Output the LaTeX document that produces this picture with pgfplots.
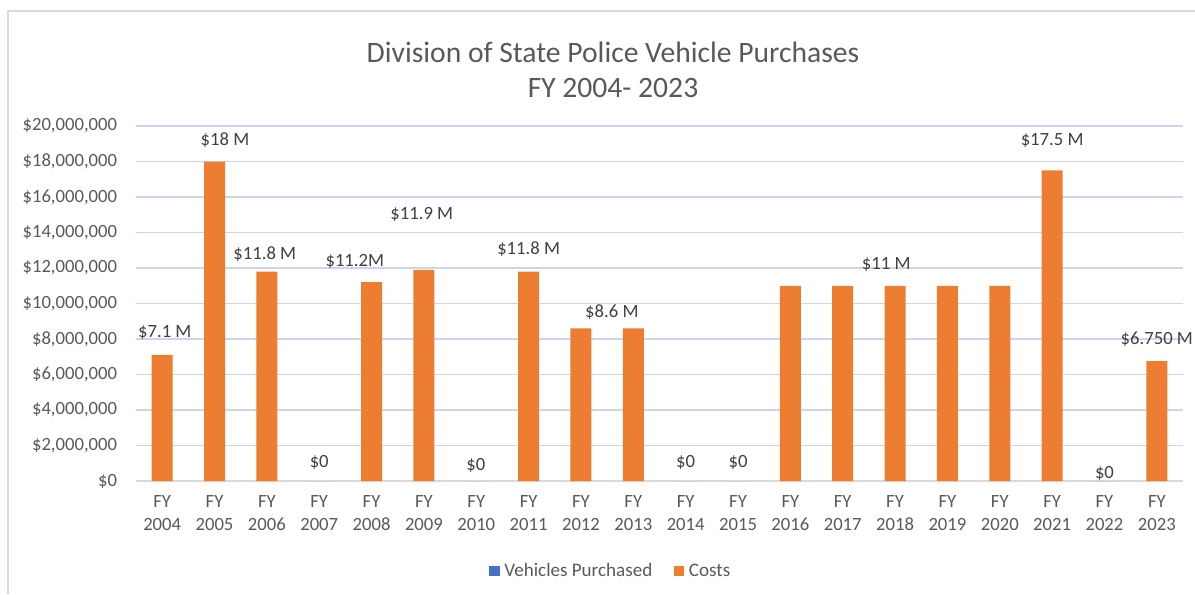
\documentclass[border=0pt]{standalone}
\usepackage{fontspec}
\setmainfont{Carlito}
\usepackage{pgfplots}
\pgfplotsset{compat=1.18}
\definecolor{txt}{HTML}{595959}
\definecolor{lbl}{HTML}{404040}
\definecolor{barorange}{HTML}{ED7D31}
\definecolor{barblue}{HTML}{4472C4}
\definecolor{gridc}{HTML}{CAD5EE}
\definecolor{axc}{HTML}{D9D9D9}
\begin{document}
\begin{tikzpicture}[x=1pt,y=1pt]
\useasboundingbox (0,0) rectangle (896.25,445.5);
\draw[axc, line width=1.1pt] (6,0) -- (6,437.25) -- (896.25,437.25);
\begin{axis}[
  at={(102pt,84.75pt)}, anchor=south west,
  scale only axis, width=785.25pt, height=266.25pt,
  ybar, bar width=15.75pt,
  xmin=-0.5, xmax=19.5, ymin=0, ymax=20000000,
  scaled y ticks=false,
  xtick={0,1,2,3,4,5,6,7,8,9,10,11,12,13,14,15,16,17,18,19},
  xticklabels={{FY\\2004},{FY\\2005},{FY\\2006},{FY\\2007},{FY\\2008},{FY\\2009},{FY\\2010},{FY\\2011},{FY\\2012},{FY\\2013},{FY\\2014},{FY\\2015},{FY\\2016},{FY\\2017},{FY\\2018},{FY\\2019},{FY\\2020},{FY\\2021},{FY\\2022},{FY\\2023}},
  ytick={0,2000000,4000000,6000000,8000000,10000000,12000000,14000000,16000000,18000000,20000000},
  yticklabels={{\$0},{\$2,000,000},{\$4,000,000},{\$6,000,000},{\$8,000,000},{\$10,000,000},{\$12,000,000},{\$14,000,000},{\$16,000,000},{\$18,000,000},{\$20,000,000}},
  major tick length=0pt,
  axis x line*=bottom, axis y line*=left,
  x axis line style={axc, line width=1.1pt, -},
  y axis line style={draw=none},
  ymajorgrids, grid style={gridc, line width=0.9pt},
  tick label style={font=\fontsize{14}{17.25}\selectfont, text=txt},
  yticklabel style={inner sep=0pt, xshift=-14pt},
  xticklabel style={align=center, inner sep=0pt, yshift=-11pt},
  legend style={at={(0.4537,-0.2535)}, anchor=center, draw=none, fill=none,
    legend columns=2, font=\fontsize{14.3}{17}\selectfont, text=txt,
    /tikz/every even column/.append style={column sep=14pt}},
  clip=false,
]
\addlegendimage{fill=barblue, draw=none, legend image code/.code={\fill[barblue] (0pt,-4pt) rectangle (8pt,4pt);}}
\addlegendentry{\hspace{1.5pt}Vehicles Purchased}
\addplot[fill=barorange, draw=none, legend image code/.code={\fill[barorange] (0pt,-4pt) rectangle (8pt,4pt);}] coordinates {
(0,7100000)(1,18000000)(2,11800000)(3,0)(4,11200000)(5,11900000)(6,0)(7,11800000)(8,8600000)(9,8600000)(10,0)(11,0)(12,11000000)(13,11000000)(14,11000000)(15,11000000)(16,11000000)(17,17500000)(18,0)(19,6750000)};
\addlegendentry{\hspace{1.5pt}Costs}
\begin{scope}[every node/.style={font=\fontsize{14}{17}\selectfont, text=lbl}]
\node at (axis cs:0.05,8340000) {\$7.1 M};
\node at (axis cs:1.2,19200000) {\$18 M};
\node at (axis cs:1.96,12790000) {\$11.8 M};
\node at (axis cs:3.0,1070000) {\$0};
\node at (axis cs:3.68,12340000) {\$11.2M};
\node at (axis cs:4.96,14990000) {\$11.9 M};
\node at (axis cs:5.99,900000) {\$0};
\node at (axis cs:7.0,13070000) {\$11.8 M};
\node at (axis cs:8.59,9520000) {\$8.6 M};
\node at (axis cs:10.0,1070000) {\$0};
\node at (axis cs:11.0,1070000) {\$0};
\node at (axis cs:13.83,12170000) {\$11 M};
\node at (axis cs:17.0,19200000) {\$17.5 M};
\node at (axis cs:18.0,450000) {\$0};
\node at (axis cs:19.0,8000000) {\$6.750 M};
\end{scope}
\end{axis}
\node[font=\fontsize{22.2}{26}\selectfont, text=txt] at (459.75,406.5) {Division of State Police Vehicle Purchases};
\node[font=\fontsize{22.2}{26}\selectfont, text=txt] at (459.75,379.5) {FY 2004- 2023};
\end{tikzpicture}
\end{document}
